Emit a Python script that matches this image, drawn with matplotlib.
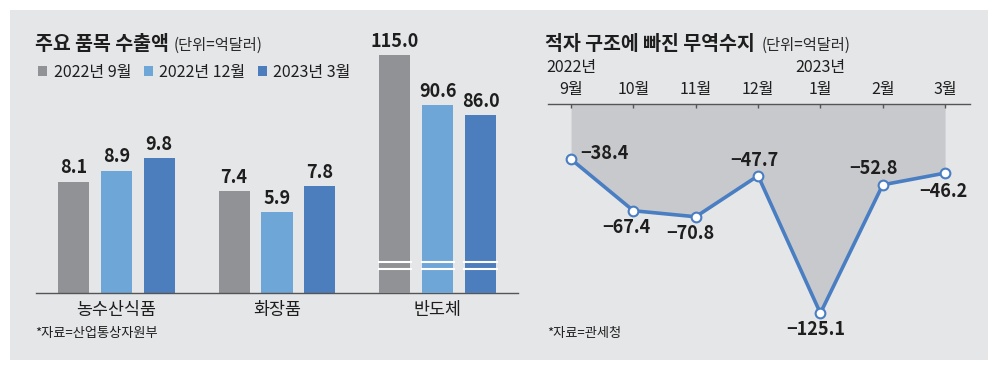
import matplotlib.pyplot as plt
import numpy as np
from matplotlib.patches import Rectangle
from matplotlib import font_manager as fm

plt.rcParams['font.family'] = ['Noto Sans CJK KR', 'DejaVu Sans']

# 숫자용 좁은 글꼴이 있으면 사용
NUM_FONT = ['Noto Sans CJK KR']
NUM_SIZE = 13
for cand in ['Liberation Sans Narrow', 'DejaVu Sans Condensed']:
    try:
        fm.findfont(fm.FontProperties(family=cand), fallback_to_default=False)
        NUM_FONT = [cand, 'DejaVu Sans']
        NUM_SIZE = 14
        break
    except Exception:
        pass

# --- 데이터 ---
items = ['농수산식품', '화장품', '반도체']
series_names = ['2022년 9월', '2022년 12월', '2023년 3월']
export_values = [
    [8.1, 7.4, 115.0],   # 2022년 9월
    [8.9, 5.9, 90.6],    # 2022년 12월
    [9.8, 7.8, 86.0],    # 2023년 3월
]
months = ['9월', '10월', '11월', '12월', '1월', '2월', '3월']
years = {0: '2022년', 4: '2023년'}
balance = [-38.4, -67.4, -70.8, -47.7, -125.1, -52.8, -46.2]

colors = ['#909295', '#6fa6d8', '#4c7dbd']
bg = '#e5e6e8'
W, H = 999, 391


def fx(px):
    return px / W


def fy(py):
    return 1 - py / H


fig = plt.figure(figsize=(W / 100, H / 100), dpi=100)
fig.patch.set_facecolor('white')
fig.patches.append(Rectangle((fx(10), fy(360)), fx(978), 350 / H,
                             transform=fig.transFigure, facecolor=bg,
                             edgecolor='none', zorder=-10))

# ---------------- 왼쪽: 주요 품목 수출액 ----------------
ax1 = fig.add_axes([fx(36), fy(293), fx(482), 253 / H])
ax1s = ax1.twinx()  # 반도체는 별도 축척 (생략 눈금)
for a in (ax1, ax1s):
    a.set_facecolor('none')
    for s in a.spines.values():
        s.set_visible(False)
    a.set_yticks([])
ax1.spines['bottom'].set_visible(True)
ax1.spines['bottom'].set_color('#555555')
ax1.spines['bottom'].set_linewidth(1.0)
ax1.set_xlim(-0.5, 2.5)
ax1.set_ylim(0, 18.4)
ax1s.set_ylim(0, 122.2)

idx = np.arange(len(items))
bw = 0.193
off = 0.267
handles = []
for i, vals in enumerate(export_values):
    xs = idx + (i - 1) * off
    for j, (x, v) in enumerate(zip(xs, vals)):
        a = ax1s if j == 2 else ax1
        b = a.bar(x, v, bw, color=colors[i], zorder=2)
        a.annotate(f'{v:.1f}', (x, v), xytext=(0, 3), textcoords='offset points',
                   ha='center', va='bottom', fontsize=NUM_SIZE, fontweight='bold',
                   family=NUM_FONT, color='#1e1e1e')
        if j == 0:
            handles.append(b)
        if j == 2:
            # 생략 표시 (흰 줄)
            for yb in (15.0, 11.6):
                a.hlines(yb, x - bw / 2 - 0.01, x + bw / 2 + 0.01,
                         color='white', lw=1.5, zorder=3)

ax1.set_xticks(idx)
ax1.set_xticklabels(items, fontsize=12.5, color='#1e1e1e')
ax1.tick_params(axis='x', length=0, pad=6)

fig.text(fx(35), fy(45), '주요 품목 수출액', fontsize=14, fontweight='bold',
         va='center', ha='left', color='#1e1e1e')
fig.text(fx(174), fy(45), '(단위=억달러)', fontsize=11, va='center', ha='left',
         color='#2a2a2a')
fig.legend(handles, series_names, loc='center left',
           bbox_to_anchor=(fx(32), fy(72)), ncol=3, frameon=False,
           fontsize=11.5, handlelength=0.55, handleheight=0.55,
           handletextpad=0.4, columnspacing=0.8, borderaxespad=0,
           labelcolor='#1e1e1e')
fig.text(fx(35), fy(333), '*자료=산업통상자원부', fontsize=9.5, va='center',
         ha='left', color='#1e1e1e')

# ---------------- 오른쪽: 무역수지 ----------------
ax2 = fig.add_axes([fx(548), fy(345), fx(422), 241 / H])
ax2.set_facecolor('none')
for s in ax2.spines.values():
    s.set_visible(False)
ax2.spines['top'].set_visible(True)
ax2.spines['top'].set_color('#555555')
ax2.spines['top'].set_linewidth(1.0)
x2 = np.arange(len(months))
ax2.set_xlim(-0.37, 6.4)
ax2.set_ylim(-143.0, -7.3)
ax2.set_yticks([])
ax2.xaxis.tick_top()
ax2.set_xticks(x2)
ax2.set_xticklabels(months, fontsize=11.5, color='#1e1e1e')
ax2.tick_params(axis='x', direction='in', length=3, width=1, color='#555555', pad=4)

ytop = ax2.get_ylim()[1]
ax2.fill_between(x2, balance, ytop, color='#c8c9cc', lw=0, zorder=1)
ax2.plot(x2, balance, color='#4a7ec2', lw=2.6, marker='o', markersize=7,
         markerfacecolor='white', markeredgecolor='#4a7ec2',
         markeredgewidth=1.5, zorder=3, clip_on=False)

label_offsets = [(24, 4), (-5, -12), (-4, -12), (-3, 11), (-3, -12), (-7, 12), (-1, -13)]
for x, v, (dx, dy) in zip(x2, balance, label_offsets):
    ax2.annotate(f'{v:.1f}'.replace('-', '\u2212'), (x, v), xytext=(dx, dy),
                 textcoords='offset points', ha='center', va='center',
                 fontsize=NUM_SIZE, fontweight='bold', family=NUM_FONT,
                 color='#1e1e1e', zorder=4)

for k, yl in years.items():
    ax2.text(k, 1.0 + 28 / 241, yl, transform=ax2.get_xaxis_transform(),
             ha='center', va='bottom', fontsize=11.5, color='#1e1e1e')

fig.text(fx(545), fy(45), '적자 구조에 빠진 무역수지', fontsize=14,
         fontweight='bold', va='center', ha='left', color='#1e1e1e')
fig.text(fx(762), fy(45), '(단위=억달러)', fontsize=11, va='center', ha='left',
         color='#2a2a2a')
fig.text(fx(547), fy(333), '*자료=관세청', fontsize=9.5, va='center', ha='left',
         color='#1e1e1e')

fig.savefig('out.png', dpi=100, facecolor='white')
